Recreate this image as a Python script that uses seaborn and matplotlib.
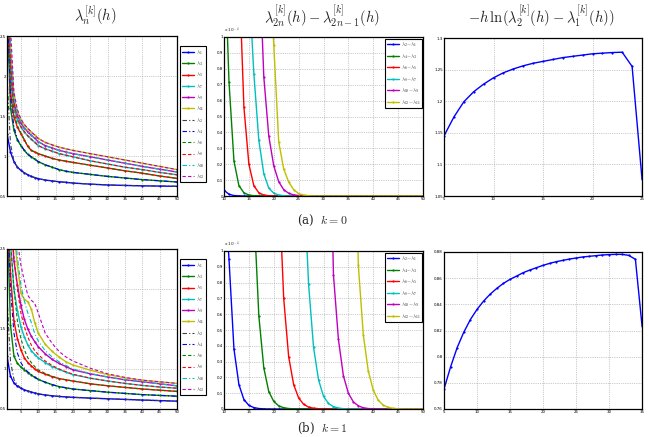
import numpy as np
import pandas as pd
import matplotlib
matplotlib.use("Agg")
import matplotlib.pyplot as plt
import seaborn as sns

# ---- data ----
h_lam = [1, 2, 3, 4, 5, 6, 7, 8, 9, 10, 12, 14, 16, 18, 20, 25, 30, 35, 40, 45, 50]

# k = 0, odd eigenvalues (solid)
k0_l1 = [1.28, 1.05, 0.93, 0.86, 0.82, 0.79, 0.765, 0.745, 0.73, 0.717, 0.70, 0.688, 0.678, 0.67, 0.662, 0.648, 0.638, 0.632, 0.627, 0.624, 0.621]
k0_l3 = [2.9, 1.60, 1.32, 1.20, 1.13, 1.07, 1.02, 0.99, 0.96, 0.93, 0.89, 0.86, 0.83, 0.81, 0.795, 0.77, 0.745, 0.725, 0.705, 0.69, 0.675]
k0_l5 = [3.2, 1.80, 1.49, 1.36, 1.28, 1.20, 1.12, 1.07, 1.05, 1.03, 1.00, 0.97, 0.95, 0.935, 0.92, 0.885, 0.85, 0.815, 0.785, 0.75, 0.72]
k0_l7 = [3.5, 2.00, 1.61, 1.45, 1.36, 1.30, 1.25, 1.21, 1.17, 1.13, 1.09, 1.06, 1.03, 1.01, 0.99, 0.94, 0.90, 0.86, 0.83, 0.795, 0.765]
k0_l9 = [3.8, 2.20, 1.68, 1.51, 1.41, 1.35, 1.30, 1.26, 1.22, 1.18, 1.13, 1.10, 1.07, 1.05, 1.03, 0.99, 0.95, 0.91, 0.87, 0.835, 0.80]
k0_l11 = [4.0, 2.40, 1.74, 1.56, 1.45, 1.39, 1.34, 1.30, 1.26, 1.22, 1.17, 1.14, 1.11, 1.09, 1.07, 1.03, 0.99, 0.95, 0.91, 0.87, 0.83]
# k = 0, even eigenvalues (dashed)
k0_l2 = [2.0, 1.15, 0.94, 0.862, 0.82, 0.79, 0.765, 0.745, 0.73, 0.717, 0.70, 0.688, 0.678, 0.67, 0.662, 0.648, 0.638, 0.632, 0.627, 0.624, 0.621]
k0_l4 = [3.0, 1.75, 1.36, 1.21, 1.135, 1.07, 1.02, 0.99, 0.96, 0.93, 0.89, 0.86, 0.83, 0.81, 0.795, 0.77, 0.745, 0.725, 0.705, 0.69, 0.675]
k0_l6 = [3.4, 2.00, 1.55, 1.38, 1.29, 1.205, 1.12, 1.07, 1.05, 1.03, 1.00, 0.97, 0.95, 0.935, 0.92, 0.885, 0.85, 0.815, 0.785, 0.75, 0.72]
k0_l8 = [3.7, 2.20, 1.66, 1.47, 1.37, 1.305, 1.252, 1.21, 1.17, 1.13, 1.09, 1.06, 1.03, 1.01, 0.99, 0.94, 0.90, 0.86, 0.83, 0.795, 0.765]
k0_l10 = [4.0, 2.40, 1.73, 1.53, 1.42, 1.355, 1.302, 1.262, 1.22, 1.18, 1.13, 1.10, 1.07, 1.05, 1.03, 0.99, 0.95, 0.91, 0.87, 0.835, 0.80]
k0_l12 = [4.2, 2.60, 1.80, 1.58, 1.46, 1.395, 1.345, 1.302, 1.262, 1.22, 1.17, 1.14, 1.11, 1.09, 1.07, 1.03, 0.99, 0.95, 0.91, 0.87, 0.83]

# k = 1, odd eigenvalues (solid)
k1_l1 = [1.16, 0.91, 0.825, 0.785, 0.76, 0.74, 0.725, 0.712, 0.70, 0.69, 0.675, 0.665, 0.657, 0.651, 0.646, 0.636, 0.628, 0.62, 0.612, 0.605, 0.598]
k1_l3 = [3.0, 1.55, 1.16, 1.07, 1.025, 0.99, 0.955, 0.925, 0.895, 0.87, 0.835, 0.805, 0.78, 0.765, 0.75, 0.73, 0.71, 0.695, 0.68, 0.67, 0.66]
k1_l5 = [3.3, 2.2, 1.6, 1.38, 1.24, 1.14, 1.08, 1.04, 1.00, 0.97, 0.935, 0.905, 0.88, 0.865, 0.85, 0.815, 0.79, 0.77, 0.75, 0.735, 0.72]
k1_l7 = [3.6, 2.6, 2.0, 1.73, 1.53, 1.40, 1.30, 1.23, 1.18, 1.14, 1.08, 1.03, 0.995, 0.96, 0.93, 0.885, 0.85, 0.82, 0.795, 0.775, 0.76]
k1_l9 = [3.9, 3.0, 2.35, 2.05, 1.80, 1.62, 1.50, 1.41, 1.34, 1.28, 1.19, 1.12, 1.07, 1.03, 0.99, 0.94, 0.90, 0.865, 0.84, 0.815, 0.79]
k1_l11 = [4.2, 3.3, 2.7, 2.3, 1.95, 1.87, 1.84, 1.75, 1.58, 1.45, 1.31, 1.22, 1.15, 1.09, 1.05, 0.985, 0.93, 0.89, 0.86, 0.84, 0.82]
# k = 1, even eigenvalues (dashed)
k1_l2 = [1.9, 1.10, 0.87, 0.80, 0.765, 0.74, 0.725, 0.712, 0.70, 0.69, 0.675, 0.665, 0.657, 0.651, 0.646, 0.636, 0.628, 0.62, 0.612, 0.605, 0.598]
k1_l4 = [3.2, 2.0, 1.45, 1.20, 1.08, 1.01, 0.965, 0.93, 0.897, 0.87, 0.835, 0.805, 0.78, 0.765, 0.75, 0.73, 0.71, 0.695, 0.68, 0.67, 0.66]
k1_l6 = [3.5, 2.6, 2.0, 1.60, 1.38, 1.24, 1.14, 1.08, 1.03, 0.99, 0.945, 0.91, 0.882, 0.865, 0.85, 0.815, 0.79, 0.77, 0.75, 0.735, 0.72]
k1_l8 = [3.8, 3.0, 2.4, 2.0, 1.70, 1.53, 1.40, 1.30, 1.23, 1.18, 1.10, 1.045, 1.00, 0.965, 0.935, 0.885, 0.85, 0.82, 0.795, 0.775, 0.76]
k1_l10 = [4.1, 3.3, 2.8, 2.4, 2.05, 1.85, 1.70, 1.58, 1.44, 1.35, 1.23, 1.15, 1.09, 1.045, 1.00, 0.945, 0.90, 0.865, 0.84, 0.815, 0.79]
k1_l12 = [4.4, 3.6, 3.0, 2.6, 2.3, 2.1, 1.92, 1.86, 1.82, 1.70, 1.45, 1.32, 1.22, 1.15, 1.10, 1.01, 0.94, 0.895, 0.86, 0.84, 0.82]

# gaps lambda_2n - lambda_2n-1, in units of 1e-4, h = 10..50
h_gap = list(range(10, 51))
k0_g1 = [0.036, 0.011, 0.003, 0.001, 0, 0, 0, 0, 0, 0,
         0, 0, 0, 0, 0, 0, 0, 0, 0, 0,
         0, 0, 0, 0, 0, 0, 0, 0, 0, 0,
         0, 0, 0, 0, 0, 0, 0, 0, 0, 0, 0]
k0_g3 = [1.65, 0.72, 0.22, 0.065, 0.02, 0.006, 0.002, 0.0006, 0, 0,
         0, 0, 0, 0, 0, 0, 0, 0, 0, 0,
         0, 0, 0, 0, 0, 0, 0, 0, 0, 0,
         0, 0, 0, 0, 0, 0, 0, 0, 0, 0, 0]
k0_g5 = [5.0, 5.0, 4.5, 1.44, 0.56, 0.2, 0.065, 0.02, 0.006, 0.002,
         0, 0, 0, 0, 0, 0, 0, 0, 0, 0,
         0, 0, 0, 0, 0, 0, 0, 0, 0, 0,
         0, 0, 0, 0, 0, 0, 0, 0, 0, 0, 0]
k0_g7 = [5.0, 5.0, 5.0, 5.0, 2.8, 1.35, 0.77, 0.35, 0.14, 0.05,
         0.018, 0.006, 0.002, 0, 0, 0, 0, 0, 0, 0,
         0, 0, 0, 0, 0, 0, 0, 0, 0, 0,
         0, 0, 0, 0, 0, 0, 0, 0, 0, 0, 0]
k0_g9 = [5.0, 5.0, 5.0, 5.0, 5.0, 5.0, 3.0, 1.58, 0.75, 0.377,
         0.19, 0.09, 0.04, 0.017, 0.007, 0.003, 0.001, 0, 0, 0,
         0, 0, 0, 0, 0, 0, 0, 0, 0, 0,
         0, 0, 0, 0, 0, 0, 0, 0, 0, 0, 0]
k0_g11 = [5.0, 5.0, 5.0, 5.0, 5.0, 5.0, 5.0, 5.0, 3.0, 1.6,
          0.95, 0.34, 0.17, 0.088, 0.04, 0.015, 0.006, 0.002, 0, 0,
          0, 0, 0, 0, 0, 0, 0, 0, 0, 0,
          0, 0, 0, 0, 0, 0, 0, 0, 0, 0, 0]

k1_g1 = [1.45, 0.95, 0.38, 0.154, 0.06, 0.023, 0.009, 0.003, 0.001, 0,
         0, 0, 0, 0, 0, 0, 0, 0, 0, 0,
         0, 0, 0, 0, 0, 0, 0, 0, 0, 0,
         0, 0, 0, 0, 0, 0, 0, 0, 0, 0, 0]
k1_g3 = [5.0, 5.0, 5.0, 5.0, 5.0, 3.0, 1.27, 0.59, 0.26, 0.11,
         0.048, 0.02, 0.008, 0.003, 0.001, 0, 0, 0, 0, 0,
         0, 0, 0, 0, 0, 0, 0, 0, 0, 0,
         0, 0, 0, 0, 0, 0, 0, 0, 0, 0, 0]
k1_g5 = [5.0, 5.0, 5.0, 5.0, 5.0, 5.0, 5.0, 5.0, 5.0, 5.0,
         3.0, 1.45, 0.70, 0.33, 0.155, 0.07, 0.03, 0.012, 0.005, 0.002,
         0, 0, 0, 0, 0, 0, 0, 0, 0, 0,
         0, 0, 0, 0, 0, 0, 0, 0, 0, 0, 0]
k1_g7 = [5.0, 5.0, 5.0, 5.0, 5.0, 5.0, 5.0, 5.0, 5.0, 5.0,
         5.0, 5.0, 5.0, 5.0, 5.0, 3.0, 1.49, 0.79, 0.39, 0.185,
         0.08, 0.035, 0.015, 0.006, 0.002, 0, 0, 0, 0, 0,
         0, 0, 0, 0, 0, 0, 0, 0, 0, 0, 0]
k1_g9 = [5.0, 5.0, 5.0, 5.0, 5.0, 5.0, 5.0, 5.0, 5.0, 5.0,
         5.0, 5.0, 5.0, 5.0, 5.0, 5.0, 5.0, 5.0, 5.0, 5.0,
         5.0, 2.35, 0.85, 0.44, 0.21, 0.10, 0.045, 0.02, 0.008, 0.003,
         0.001, 0, 0, 0, 0, 0, 0, 0, 0, 0, 0]
k1_g11 = [5.0, 5.0, 5.0, 5.0, 5.0, 5.0, 5.0, 5.0, 5.0, 5.0,
          5.0, 5.0, 5.0, 5.0, 5.0, 5.0, 5.0, 5.0, 5.0, 5.0,
          5.0, 5.0, 5.0, 5.0, 5.0, 5.0, 2.5, 0.91, 0.47, 0.24,
          0.12, 0.055, 0.025, 0.01, 0.004, 0.0015, 0, 0, 0, 0, 0]

# -h ln(lambda_2 - lambda_1)
h_r0 = list(range(5, 26))
k0_rate = [1.145, 1.175, 1.199, 1.215, 1.227, 1.237, 1.245, 1.251, 1.256, 1.260, 1.263,
           1.266, 1.269, 1.271, 1.273, 1.275, 1.276, 1.277, 1.2775, 1.255, 1.077]
h_r1 = list(range(5, 36))
k1_rate = [0.7753, 0.7922, 0.807, 0.8187, 0.8284, 0.8361, 0.8425, 0.8478, 0.8522, 0.856,
           0.8591, 0.8616, 0.8642, 0.8662, 0.868, 0.8698, 0.8713, 0.8726, 0.8736, 0.8746,
           0.8754, 0.8762, 0.8767, 0.8772, 0.8777, 0.878, 0.8782, 0.8782, 0.8774, 0.8744, 0.8238]

odd_names = [r"$\lambda_{1}$", r"$\lambda_{3}$", r"$\lambda_{5}$", r"$\lambda_{7}$", r"$\lambda_{9}$", r"$\lambda_{11}$"]
even_names = [r"$\lambda_{2}$", r"$\lambda_{4}$", r"$\lambda_{6}$", r"$\lambda_{8}$", r"$\lambda_{10}$", r"$\lambda_{12}$"]
gap_names = [r"$\lambda_{2}\!-\!\lambda_{1}$", r"$\lambda_{4}\!-\!\lambda_{3}$", r"$\lambda_{6}\!-\!\lambda_{5}$",
             r"$\lambda_{8}\!-\!\lambda_{7}$", r"$\lambda_{10}\!-\!\lambda_{9}$", r"$\lambda_{12}\!-\!\lambda_{11}$"]

solid_cols = ["#0000ff", "#008000", "#ff0000", "#00bfbf", "#bf00bf", "#bfbf00"]
dash_cols = ["#404040", "#0000ff", "#008000", "#ff0000", "#00bfbf", "#bf00bf"]
dash_styles = [(0, (4, 2, 1, 2)), (0, (4, 2, 1, 2)), (0, (3, 2)), (0, (3, 2)), (0, (4, 2, 1, 2)), (0, (3, 2))]

sns.set_theme(style="whitegrid")
plt.rcParams["font.family"] = ["DejaVu Sans"]
plt.rcParams["mathtext.fontset"] = "cm"
plt.rcParams["axes.edgecolor"] = "black"
plt.rcParams["axes.linewidth"] = 0.9
plt.rcParams["grid.linestyle"] = ":"
plt.rcParams["grid.color"] = "#9a9a9a"
plt.rcParams["grid.linewidth"] = 0.5

fig = plt.figure(figsize=(6.49, 4.37), dpi=100)
W, H = 649, 437


def add_ax(l, t, r, b):
    return fig.add_axes([l / W, 1 - b / H, (r - l) / W, (b - t) / H])


def style_ax(ax, xlim, xticks, ylim, yticks, ylabels=None):
    ax.set_xlim(*xlim)
    ax.set_ylim(*ylim)
    ax.set_xticks(xticks)
    ax.set_yticks(yticks)
    if ylabels is not None:
        ax.set_yticklabels(ylabels)
    ax.tick_params(labelsize=2.9, length=1.5, width=0.4, pad=0.8, direction="in", colors="black")
    ax.set_xlabel("")
    ax.set_ylabel("")
    ax.grid(True)


def make_legend(ax, spacing, **kw):
    leg = ax.legend(fontsize=3.8, frameon=True, fancybox=False, edgecolor="black",
                    handlelength=2.4, labelspacing=spacing, borderpad=0.3, handletextpad=0.3,
                    borderaxespad=0, framealpha=1, **kw)
    leg.get_frame().set_linewidth(0.8)


def lam_panel(ax, odd, even):
    for i in range(6):
        sns.lineplot(x=h_lam, y=odd[i], ax=ax, color=solid_cols[i], lw=1.0, marker="o",
                     markersize=1.6, markeredgewidth=0, label=odd_names[i])
    for i in range(6):
        sns.lineplot(x=h_lam, y=even[i], ax=ax, color=dash_cols[i], lw=0.8, linestyle=dash_styles[i],
                     label=even_names[i])
    style_ax(ax, (1, 50), range(5, 51, 5), (0.5, 2.5), [0.5, 1, 1.5, 2, 2.5], ["0.5", "1", "1.5", "2", "2.5"])
    make_legend(ax, 0.45, loc="upper left", bbox_to_anchor=(1.018, 0.935))


def gap_panel(ax, gaps):
    for i in range(6):
        sns.lineplot(x=h_gap, y=gaps[i], ax=ax, color=solid_cols[i], lw=1.0, marker="o",
                     markersize=1.6, markeredgewidth=0, label=gap_names[i])
    style_ax(ax, (10, 50), range(10, 51, 5), (0, 1), np.arange(0, 1.01, 0.1),
             ["0", "0.1", "0.2", "0.3", "0.4", "0.5", "0.6", "0.7", "0.8", "0.9", "1"])
    ax.text(0.0, 1.012, r"x 10$^{-4}$", transform=ax.transAxes, fontsize=3.2, va="bottom", ha="left")
    make_legend(ax, 0.5, loc="upper right", bbox_to_anchor=(0.997, 0.99))


# top row, k = 0
ax = add_ax(7, 36, 177, 196)
lam_panel(ax, [k0_l1, k0_l3, k0_l5, k0_l7, k0_l9, k0_l11], [k0_l2, k0_l4, k0_l6, k0_l8, k0_l10, k0_l12])
ax = add_ax(224, 37, 423, 196)
gap_panel(ax, [k0_g1, k0_g3, k0_g5, k0_g7, k0_g9, k0_g11])
ax = add_ax(444, 38, 642, 196)
sns.lineplot(x=h_r0, y=k0_rate, ax=ax, color="#0000ff", lw=1.0, marker="o", markersize=1.6, markeredgewidth=0)
style_ax(ax, (5, 25), range(5, 26, 5), (1.05, 1.3), [1.05, 1.1, 1.15, 1.2, 1.25, 1.3],
         ["1.05", "1.1", "1.15", "1.2", "1.25", "1.3"])

# bottom row, k = 1
ax = add_ax(7, 249, 177, 409)
lam_panel(ax, [k1_l1, k1_l3, k1_l5, k1_l7, k1_l9, k1_l11], [k1_l2, k1_l4, k1_l6, k1_l8, k1_l10, k1_l12])
ax = add_ax(224, 251, 423, 409)
gap_panel(ax, [k1_g1, k1_g3, k1_g5, k1_g7, k1_g9, k1_g11])
ax = add_ax(444, 252, 642, 409)
sns.lineplot(x=h_r1, y=k1_rate, ax=ax, color="#0000ff", lw=1.0, marker="o", markersize=1.6, markeredgewidth=0)
style_ax(ax, (5, 35), range(5, 36, 5), (0.76, 0.88), [0.76, 0.78, 0.8, 0.82, 0.84, 0.86, 0.88],
         ["0.76", "0.78", "0.8", "0.82", "0.84", "0.86", "0.88"])

# column titles and captions
fig.text(95 / W, 1 - 16 / H, r"$\lambda_n^{[k]}(h)$", ha="center", va="center", fontsize=10.5)
fig.text(322 / W, 1 - 16 / H, r"$\lambda_{2n}^{[k]}(h)-\lambda_{2n-1}^{[k]}(h)$", ha="center", va="center", fontsize=10.5)
fig.text(541 / W, 1 - 16 / H, r"$-h\,\ln(\lambda_2^{[k]}(h)-\lambda_1^{[k]}(h))$", ha="center", va="center", fontsize=10.5)
fig.text(322 / W, 1 - 220 / H, r"(a)  $k=0$", ha="center", va="center", fontsize=8.5, family="serif")
fig.text(322 / W, 1 - 428 / H, r"(b)  $k=1$", ha="center", va="center", fontsize=8.5, family="serif")

fig.savefig("out.png", dpi=100)
